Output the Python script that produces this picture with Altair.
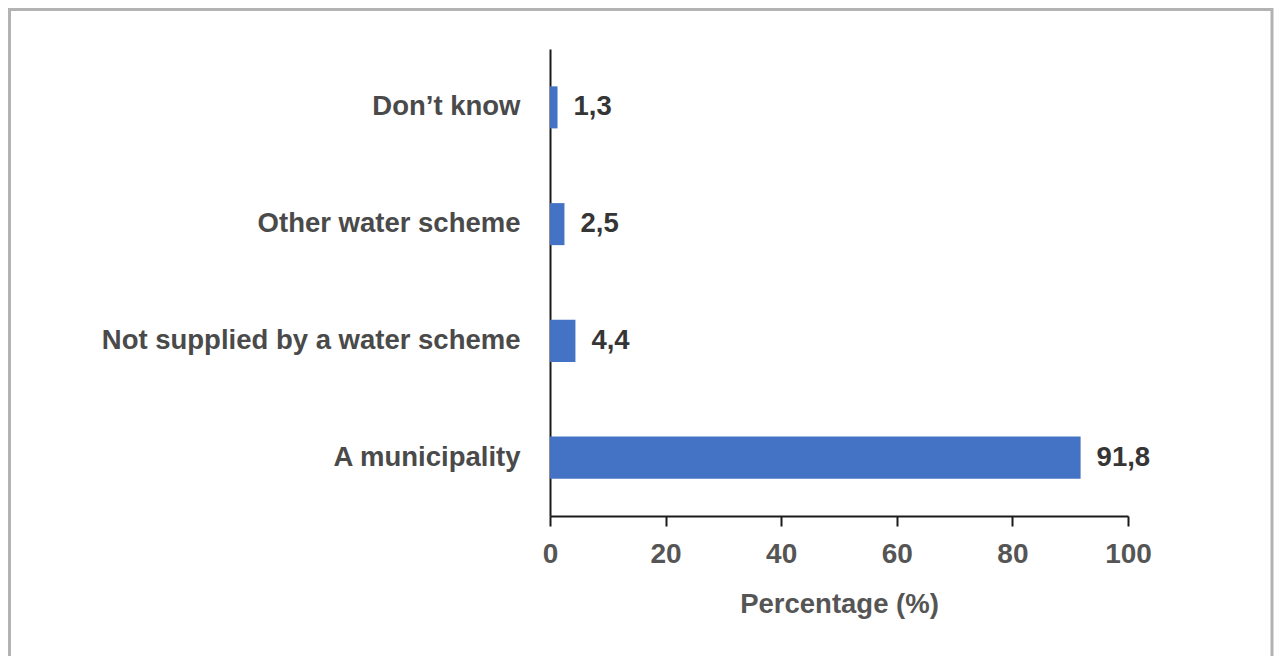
import altair as alt
import pandas as pd

categories = ["Don’t know", "Other water scheme", "Not supplied by a water scheme", "A municipality"]
values = [1.3, 2.5, 4.4, 91.8]
value_labels = ["1,3", "2,5", "4,4", "91,8"]
x_ticks = [0, 20, 40, 60, 80, 100]

df = pd.DataFrame({"cat": categories, "val": values, "lab": value_labels})

FONT = "Liberation Sans"
W, H = 578, 467

y_enc = alt.Y("cat:N", sort=categories,
              scale=alt.Scale(paddingInner=0.64, paddingOuter=0.32),
              axis=alt.Axis(title=None, ticks=False, labelPadding=30,
                            labelFont=FONT, labelFontSize=27.5, labelFontWeight="bold",
                            labelColor="#4a4a4a", domainColor="#1a1a1a", domainWidth=2,
                            labelLimit=600))

x_enc = alt.X("val:Q", scale=alt.Scale(domain=[0, 100], nice=False),
              axis=alt.Axis(title="Percentage (%)", values=x_ticks, grid=False,
                            tickSize=10, tickColor="#1a1a1a", tickWidth=2,
                            domainColor="#1a1a1a", domainWidth=2,
                            labelFlush=False, labelOverlap=False,
                            labelPadding=14, labelFont=FONT, labelFontSize=28,
                            labelFontWeight="bold", labelColor="#555555",
                            titleFont=FONT, titleFontSize=27.5, titleFontWeight="bold",
                            titleColor="#555555", titlePadding=22))

bars = alt.Chart(df).mark_bar(color="#4472C4").encode(x=x_enc, y=y_enc)

text = alt.Chart(df).mark_text(align="left", baseline="middle", dx=16,
                               font=FONT, fontSize=27.5, fontWeight="bold",
                               color="#353535").encode(
    x="val:Q", y=alt.Y("cat:N", sort=categories), text="lab:N")

frame = alt.Chart(pd.DataFrame({"k": [0]})).mark_rect(
    filled=False, stroke="#b3b3b3", strokeWidth=3).encode(
    x=alt.value(-540.5), x2=alt.value(W + 144),
    y=alt.value(-39.5), y2=alt.value(H + 160))

chart = alt.layer(frame, bars, text).properties(
    width=W, height=H,
    background="white",
    autosize=alt.AutoSizeParams(type="none"),
    padding={"left": 542, "top": 41, "right": 146, "bottom": 140},
).configure_view(stroke="transparent", strokeWidth=0)

chart.save("out.html", embed_options={"renderer": "svg", "actions": False})
